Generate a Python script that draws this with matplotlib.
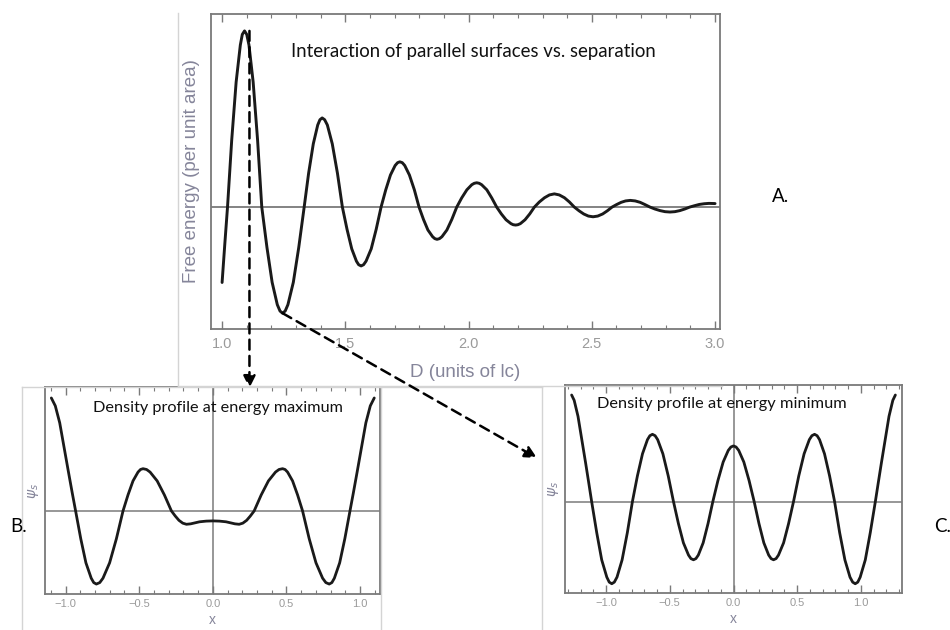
import matplotlib.pyplot as plt
from matplotlib.patches import ConnectionPatch
from matplotlib.lines import Line2D
from matplotlib.ticker import MultipleLocator
import matplotlib.transforms as mtransforms

# --- panel A: free energy vs separation D (units of lc)
D_vals = [1.000, 1.011, 1.022, 1.039, 1.057, 1.074, 1.082, 1.091, 1.100, 1.109,
          1.126, 1.144, 1.161, 1.182, 1.203, 1.224, 1.235, 1.245, 1.256, 1.267,
          1.289, 1.311, 1.333, 1.351, 1.370, 1.388, 1.397, 1.406, 1.416, 1.427,
          1.447, 1.468, 1.488, 1.507, 1.526, 1.545, 1.554, 1.564, 1.574, 1.584,
          1.605, 1.625, 1.645, 1.664, 1.683, 1.702, 1.712, 1.721, 1.731, 1.741,
          1.760, 1.780, 1.799, 1.817, 1.835, 1.854, 1.863, 1.872, 1.882, 1.892,
          1.912, 1.932, 1.952, 1.972, 1.993, 2.013, 2.023, 2.033, 2.043, 2.053,
          2.074, 2.094, 2.114, 2.133, 2.152, 2.172, 2.181, 2.191, 2.200, 2.210,
          2.229, 2.248, 2.267, 2.287, 2.308, 2.328, 2.348, 2.368, 2.389, 2.409,
          2.429, 2.448, 2.467, 2.486, 2.505, 2.524, 2.544, 2.563, 2.582, 2.600,
          2.619, 2.637, 2.656, 2.676, 2.696, 2.716, 2.736, 2.756, 2.777, 2.797,
          2.817, 2.837, 2.857, 2.877, 2.897, 2.917, 2.936, 2.956, 2.975, 3.000]
E_vals = [-0.428, -0.210, 0.000, 0.380, 0.710, 0.920, 0.980, 1.000, 0.980, 0.920,
          0.710, 0.380, 0.000, -0.229, -0.427, -0.554, -0.590, -0.602, -0.590, -0.554,
          -0.427, -0.229, 0.000, 0.192, 0.359, 0.466, 0.496, 0.506, 0.496, 0.466,
          0.359, 0.192, 0.000, -0.127, -0.237, -0.307, -0.327, -0.334, -0.327, -0.307,
          -0.237, -0.127, 0.000, 0.098, 0.182, 0.236, 0.252, 0.257, 0.252, 0.236,
          0.182, 0.098, 0.000, -0.070, -0.130, -0.168, -0.179, -0.183, -0.179, -0.168,
          -0.130, -0.070, 0.000, 0.052, 0.098, 0.127, 0.135, 0.138, 0.135, 0.127,
          0.098, 0.052, 0.000, -0.039, -0.072, -0.094, -0.100, -0.102, -0.100, -0.094,
          -0.072, -0.039, 0.000, 0.029, 0.053, 0.069, 0.075, 0.069, 0.053, 0.029,
          0.000, -0.021, -0.039, -0.051, -0.055, -0.051, -0.039, -0.021, 0.000, 0.014,
          0.027, 0.035, 0.038, 0.035, 0.027, 0.014, 0.000, -0.011, -0.020, -0.026,
          -0.028, -0.026, -0.020, -0.011, 0.000, 0.008, 0.015, 0.019, 0.021, 0.020]

# --- panel B: density profile at energy maximum
xB = [-1.097, -1.070, -1.040, -1.010, -0.980, -0.955, -0.932, -0.897, -0.862, -0.826,
      -0.809, -0.791, -0.768, -0.746, -0.701, -0.655, -0.610, -0.576, -0.542, -0.508,
      -0.491, -0.474, -0.450, -0.426, -0.378, -0.329, -0.281, -0.255, -0.230, -0.204,
      -0.179, -0.150, -0.120, -0.090, -0.045, 0.000, 0.045, 0.090, 0.120, 0.150,
      0.179, 0.204, 0.230, 0.255, 0.281, 0.329, 0.378, 0.426, 0.450, 0.474,
      0.491, 0.508, 0.542, 0.576, 0.610, 0.655, 0.701, 0.746, 0.768, 0.791,
      0.809, 0.826, 0.862, 0.897, 0.932, 0.955, 0.980, 1.010, 1.040, 1.070,
      1.097]
psiB = [1.000, 0.930, 0.780, 0.560, 0.340, 0.160, 0.000, -0.246, -0.459, -0.595,
        -0.634, -0.647, -0.634, -0.595, -0.459, -0.246, 0.000, 0.142, 0.266, 0.344,
        0.367, 0.374, 0.367, 0.344, 0.266, 0.142, 0.000, -0.045, -0.083, -0.108,
        -0.118, -0.114, -0.105, -0.096, -0.090, -0.088, -0.090, -0.096, -0.105, -0.114,
        -0.118, -0.108, -0.083, -0.045, 0.000, 0.142, 0.266, 0.344, 0.367, 0.374,
        0.367, 0.344, 0.266, 0.142, 0.000, -0.246, -0.459, -0.595, -0.634, -0.647,
        -0.634, -0.595, -0.459, -0.246, 0.000, 0.160, 0.340, 0.560, 0.780, 0.930,
        1.000]

# --- panel C: density profile at energy minimum
xC = [-1.270, -1.250, -1.220, -1.190, -1.160, -1.135, -1.113, -1.073, -1.034, -0.994,
      -0.975, -0.955, -0.935, -0.914, -0.874, -0.833, -0.793, -0.754, -0.714, -0.675,
      -0.656, -0.636, -0.615, -0.595, -0.554, -0.512, -0.471, -0.432, -0.393, -0.353,
      -0.334, -0.314, -0.295, -0.276, -0.238, -0.200, -0.162, -0.122, -0.081, -0.041,
      -0.020, 0.000, 0.020, 0.041, 0.081, 0.122, 0.162, 0.200, 0.238, 0.276,
      0.295, 0.314, 0.334, 0.353, 0.393, 0.432, 0.471, 0.512, 0.554, 0.595,
      0.615, 0.636, 0.656, 0.675, 0.714, 0.754, 0.793, 0.833, 0.874, 0.914,
      0.935, 0.955, 0.975, 0.994, 1.034, 1.073, 1.113, 1.135, 1.160, 1.190,
      1.220, 1.250, 1.270]
psiC = [1.000, 0.950, 0.800, 0.580, 0.360, 0.170, 0.000, -0.293, -0.548, -0.710,
        -0.757, -0.772, -0.757, -0.710, -0.548, -0.293, 0.000, 0.240, 0.448, 0.581,
        0.618, 0.631, 0.618, 0.581, 0.448, 0.240, 0.000, -0.208, -0.388, -0.503,
        -0.536, -0.547, -0.536, -0.503, -0.388, -0.208, 0.000, 0.198, 0.371, 0.480,
        0.512, 0.522, 0.512, 0.480, 0.371, 0.198, 0.000, -0.208, -0.388, -0.503,
        -0.536, -0.547, -0.536, -0.503, -0.388, -0.208, 0.000, 0.240, 0.448, 0.581,
        0.618, 0.631, 0.618, 0.581, 0.448, 0.240, 0.000, -0.293, -0.548, -0.710,
        -0.757, -0.772, -0.757, -0.710, -0.548, -0.293, 0.000, 0.170, 0.360, 0.580,
        0.800, 0.950, 1.000]

W, H = 950, 630
FRAME = '#7a7a7a'
LABEL = '#85859a'
CURVE = '#1a1a1a'
TITLE_FONT = ['Lato', 'DejaVu Sans']
AX_FONT = ['Liberation Sans', 'DejaVu Sans']
LINE_KW = dict(color=CURVE, solid_joinstyle='round', solid_capstyle='round', zorder=3)


def px_rect(left, top, right, bottom):
    return [left / W, 1 - bottom / H, (right - left) / W, (bottom - top) / H]


def style(ax, major, minor, labelsize):
    for s in ax.spines.values():
        s.set_color(FRAME)
        s.set_linewidth(1.3)
    ax.xaxis.set_major_locator(MultipleLocator(major))
    ax.xaxis.set_minor_locator(MultipleLocator(minor))
    ax.tick_params(axis='x', which='both', direction='in', top=True, bottom=True,
                   color=FRAME, labelcolor='#9a9a9a', labelsize=labelsize)
    ax.tick_params(axis='x', which='major', length=6, width=1.0)
    ax.tick_params(axis='x', which='minor', length=3, width=0.8)
    ax.set_yticks([])
    for lab in ax.get_xticklabels():
        lab.set_family(AX_FONT)


fig = plt.figure(figsize=(9.5, 6.3), dpi=100)

# light screenshot borders
grey = '#d4d4d4'
for (x0, y0, x1, y1) in [(178, 13, 178, 386), (178, 386, 722, 386),
                         (22, 387, 22, 630), (22, 387, 381, 387), (381, 387, 381, 630),
                         (381, 387, 542, 387), (542, 387, 542, 630)]:
    fig.add_artist(Line2D([x0 / W, x1 / W], [1 - y0 / H, 1 - y1 / H],
                          color=grey, lw=1.0, transform=fig.transFigure))

# panel A
axA = fig.add_axes(px_rect(211, 14, 720, 329))
axA.axhline(0, color='#7a7a7a', lw=1.3, zorder=1)
axA.plot(D_vals, E_vals, lw=2.1, **LINE_KW)
axA.set_xlim(0.955, 3.02)
axA.set_ylim(-0.692, 1.096)
style(axA, 0.5, 0.1, 10.5)
axA.tick_params(axis='x', pad=6)
axA.set_xlabel('D (units of lc)', family=AX_FONT, fontsize=13.5, color=LABEL, labelpad=9)
axA.set_ylabel('Free energy (per unit area)', family=AX_FONT, fontsize=13.5,
               color=LABEL, labelpad=8)
axA.text(0.515, 0.882, 'Interaction of parallel surfaces vs. separation',
         transform=axA.transAxes, ha='center', va='center', fontsize=13.4,
         family=TITLE_FONT, color='#111111')

# panel B
axB = fig.add_axes(px_rect(45, 387, 380, 594))
axB.axhline(0, color='#7a7a7a', lw=1.1, zorder=1)
axB.axvline(0, color='#7a7a7a', lw=1.1, zorder=1)
axB.plot(xB, psiB, lw=2.0, **LINE_KW)
axB.set_xlim(-1.14, 1.136)
axB.set_ylim(-0.735, 1.097)
style(axB, 0.5, 0.1, 8)
axB.set_xlabel('x', family=AX_FONT, fontsize=10, color=LABEL, labelpad=3)
axB.set_ylabel(r'$\psi_s$', fontsize=10, color=LABEL, labelpad=3)
axB.text(0.515, 0.9, 'Density profile at energy maximum', transform=axB.transAxes,
         ha='center', va='center', fontsize=11.7, family=TITLE_FONT, color='#111111')

# panel C
axC = fig.add_axes(px_rect(565, 385, 902, 593))
axC.axhline(0, color='#7a7a7a', lw=1.1, zorder=1)
axC.axvline(0, color='#7a7a7a', lw=1.1, zorder=1)
axC.plot(xC, psiC, lw=2.0, **LINE_KW)
axC.set_xlim(-1.322, 1.322)
axC.set_ylim(-0.859, 1.094)
style(axC, 0.5, 0.1, 8)
axC.set_xlabel('x', family=AX_FONT, fontsize=10, color=LABEL, labelpad=3)
axC.set_ylabel(r'$\psi_s$', fontsize=10, color=LABEL, labelpad=3)
axC.text(0.465, 0.91, 'Density profile at energy minimum', transform=axC.transAxes,
         ha='center', va='center', fontsize=11.8, family=TITLE_FONT, color='#111111')

# panel letters
fig.text(772 / W, 1 - 197 / H, 'A.', fontsize=13.5, family=TITLE_FONT, ha='left', va='center')
fig.text(10 / W, 1 - 527 / H, 'B.', fontsize=13.5, family=TITLE_FONT, ha='left', va='center')
fig.text(934 / W, 1 - 527 / H, 'C.', fontsize=13.5, family=TITLE_FONT, ha='left', va='center')

# dashed arrows from the energy extrema to the profiles
i_max = E_vals.index(max(E_vals))
i_min = E_vals.index(min(E_vals))
down = mtransforms.blended_transform_factory(axA.transData, fig.transFigure)
arr_kw = dict(arrowstyle='-|>', mutation_scale=18, lw=1.8, color='black',
              linestyle=(0, (4, 2.5)), zorder=10, clip_on=False)
a1 = ConnectionPatch(xyA=(D_vals[i_max] + 0.02, E_vals[i_max]), coordsA=axA.transData,
                     xyB=(D_vals[i_max] + 0.02, 1 - 388 / H), coordsB=down, **arr_kw)
a2 = ConnectionPatch(xyA=(D_vals[i_min], E_vals[i_min]), coordsA=axA.transData,
                     xyB=(537 / W, 1 - 458 / H), coordsB=fig.transFigure, **arr_kw)
fig.add_artist(a1)
fig.add_artist(a2)

fig.savefig('out.png', dpi=100)
